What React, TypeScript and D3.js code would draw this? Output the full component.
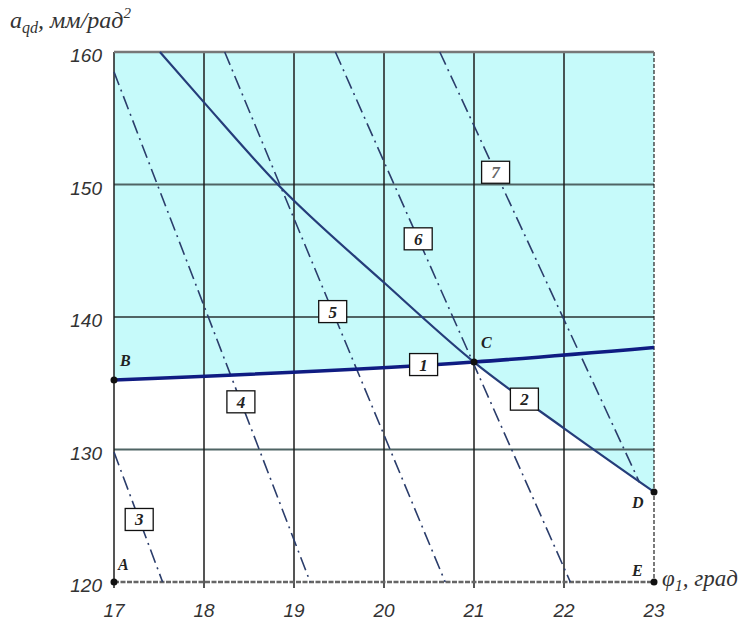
import React from 'react';
import * as d3 from 'd3';

// axis ticks
const xTicks = [17, 18, 19, 20, 21, 22, 23];
const yTicks = [120, 130, 140, 150, 160];

// line 1 (B - C - extension)
const line1X = [17, 21, 23];
const line1Y = [135.25, 136.6, 137.7];

// line 2 (through C down to D)
const line2X = [17.51, 18, 18.82, 20, 21, 22, 23];
const line2Y = [160, 156.2, 150, 142.6, 136.6, 131.6, 126.8];

// dash-dot family 3..7: [x start, x end], [y start, y end]
const dashIds = ['3', '4', '5', '6', '7'];
const dashX = [
  [17, 17.54],
  [17, 19.18],
  [18.23, 20.68],
  [19.46, 22.07],
  [20.62, 22.84],
];
const dashY = [
  [129.8, 120],
  [158.5, 120],
  [160, 120],
  [160, 120],
  [160, 127.5],
];

// where the numbered boxes sit along their curves
const boxIds = ['1', '2', '3', '4', '5', '6', '7'];
const boxAtX = [20.44, 21.56, 17.28, 18.41, 19.43, 20.38, 21.24];

// named points
const pointNames = ['A', 'B', 'C', 'D', 'E'];
const pointX = [17, 17, 21, 23, 23];
const pointY = [120, 135.25, 136.6, 126.8, 120];

const W = 749;
const H = 620;
const margin = { top: 52, right: 95, bottom: 38, left: 114 };

const interp = (xs: number[], ys: number[], x: number) => {
  for (let i = 0; i < xs.length - 1; i++) {
    if (x >= xs[i] && x <= xs[i + 1]) {
      const t = (x - xs[i]) / (xs[i + 1] - xs[i]);
      return ys[i] + t * (ys[i + 1] - ys[i]);
    }
  }
  return ys[ys.length - 1];
};

export default function App() {
  const x = d3.scaleLinear().domain([17, 23]).range([margin.left, W - margin.right]);
  const y = d3.scaleLinear().domain([120, 160]).range([H - margin.bottom, margin.top]);

  const line = d3
    .line<[number, number]>()
    .x((d) => x(d[0]))
    .y((d) => y(d[1]));
  const smooth = d3
    .line<[number, number]>()
    .x((d) => x(d[0]))
    .y((d) => y(d[1]))
    .curve(d3.curveMonotoneX);

  const pts1 = line1X.map((v, i) => [v, line1Y[i]] as [number, number]);
  const pts2 = line2X.map((v, i) => [v, line2Y[i]] as [number, number]);

  // shaded region: above the lower of lines 1 and 2
  const cX = 21;
  const region: [number, number][] = [
    [17, 160],
    ...pts1.filter((p) => p[0] <= cX),
    ...pts2.filter((p) => p[0] > cX),
    [23, 160],
  ];

  const curves: { xs: number[]; ys: number[] }[] = [
    { xs: line1X, ys: line1Y },
    { xs: line2X, ys: line2Y },
    ...dashX.map((xs, i) => ({ xs, ys: dashY[i] })),
  ];

  const tickFont = "'Liberation Sans', Arial, sans-serif";
  const serif = "'Liberation Serif', 'Times New Roman', serif";

  const labelOff: Record<string, [number, number]> = {
    A: [4, -12],
    B: [6, -14],
    C: [7, -14],
    D: [-22, 16],
    E: [-22, -6],
  };

  return (
    <svg
      width={W}
      height={H}
      style={{ position: 'absolute', left: 0, top: 0, background: '#fff' }}
    >
      {/* shaded area */}
      <path d={line(region) + 'Z'} fill="#c6fafa" stroke="none" />

      {/* horizontal grid */}
      {yTicks
        .filter((t) => t > 120 && t < 160)
        .map((t) => (
          <line
            key={'h' + t}
            x1={x(17)}
            x2={x(23)}
            y1={y(t)}
            y2={y(t)}
            stroke="#4f6464"
            strokeWidth={2}
          />
        ))}
      {/* vertical grid */}
      {xTicks
        .filter((t) => t > 17 && t < 23)
        .map((t) => (
          <line
            key={'v' + t}
            x1={x(t)}
            x2={x(t)}
            y1={y(160)}
            y2={y(120) + 6}
            stroke="#1d1d1d"
            strokeWidth={1.5}
          />
        ))}
      {/* left axis */}
      <line x1={x(17)} x2={x(17)} y1={y(160)} y2={y(120) + 6} stroke="#1d1d1d" strokeWidth={1.5} />
      {/* right dashed border */}
      <line
        x1={x(23)}
        x2={x(23)}
        y1={y(160)}
        y2={y(120)}
        stroke="#222"
        strokeWidth={1.2}
        strokeDasharray="4,2"
      />
      {/* top border */}
      <line x1={x(17)} x2={x(23)} y1={y(160)} y2={y(160)} stroke="#777" strokeWidth={2.5} />
      {/* bottom axis dashed */}
      <line
        x1={x(17)}
        x2={x(23)}
        y1={y(120)}
        y2={y(120)}
        stroke="#666"
        strokeWidth={2.5}
        strokeDasharray="5,1.5"
      />

      {/* dash-dot family */}
      {dashX.map((xs, i) => (
        <path
          key={'d' + dashIds[i]}
          d={line(xs.map((v, j) => [v, dashY[i][j]] as [number, number])) || ''}
          fill="none"
          stroke="#2b3d6b"
          strokeWidth={1.6}
          strokeDasharray="14,5,2,5"
        />
      ))}

      {/* line 2 */}
      <path d={smooth(pts2) || ''} fill="none" stroke="#253d7a" strokeWidth={2.2} />
      {/* line 1 */}
      <path d={smooth(pts1) || ''} fill="none" stroke="#0f1c82" strokeWidth={3.5} />

      {/* numbered boxes */}
      {boxIds.map((id, i) => {
        const c = curves[i];
        const bx = x(boxAtX[i]);
        const by = y(interp(c.xs, c.ys, boxAtX[i]));
        return (
          <g key={'b' + id} transform={`translate(${bx},${by})`}>
            <rect x={-14} y={-11} width={28} height={22} fill="#fff" stroke="#111" strokeWidth={1.3} />
            <text
              textAnchor="middle"
              y={6}
              fontFamily={serif}
              fontStyle="italic"
              fontWeight="bold"
              fontSize={17}
              fill={id === '7' ? '#666' : '#222'}
            >
              {id}
            </text>
          </g>
        );
      })}

      {/* points */}
      {pointNames.map((n, i) => (
        <circle key={'p' + n} cx={x(pointX[i])} cy={y(pointY[i])} r={3.5} fill="#111" />
      ))}
      {pointNames.map((n, i) => (
        <text
          key={'l' + n}
          x={x(pointX[i]) + labelOff[n][0]}
          y={y(pointY[i]) + labelOff[n][1]}
          fontFamily={serif}
          fontStyle="italic"
          fontWeight="bold"
          fontSize={16}
          fill="#222"
        >
          {n}
        </text>
      ))}

      {/* y tick labels */}
      {yTicks.map((t) => (
        <text
          key={'yt' + t}
          x={x(17) - 12}
          y={y(t) + 10}
          textAnchor="end"
          fontFamily={tickFont}
          fontStyle="italic"
          fontSize={19}
          fill="#333"
        >
          {t}
        </text>
      ))}
      {/* x tick labels */}
      {xTicks.map((t) => (
        <text
          key={'xt' + t}
          x={x(t)}
          y={y(120) + 35}
          textAnchor="middle"
          fontFamily={tickFont}
          fontStyle="italic"
          fontSize={19}
          fill="#333"
        >
          {t}
        </text>
      ))}

      {/* axis titles */}
      <text x={10} y={28} fontFamily={serif} fontStyle="italic" fontSize={24} fill="#333">
        a
        <tspan fontSize={16} dy={5}>qd</tspan>
        <tspan dy={-5}>, мм/рад</tspan>
        <tspan fontSize={15} dy={-10}>2</tspan>
      </text>
      <text x={x(23) + 8} y={y(120) + 4} fontFamily={serif} fontStyle="italic" fontSize={23} fill="#333">
        φ
        <tspan fontSize={16} dy={5}>1</tspan>
        <tspan dy={-5}>, град</tspan>
      </text>
    </svg>
  );
}
